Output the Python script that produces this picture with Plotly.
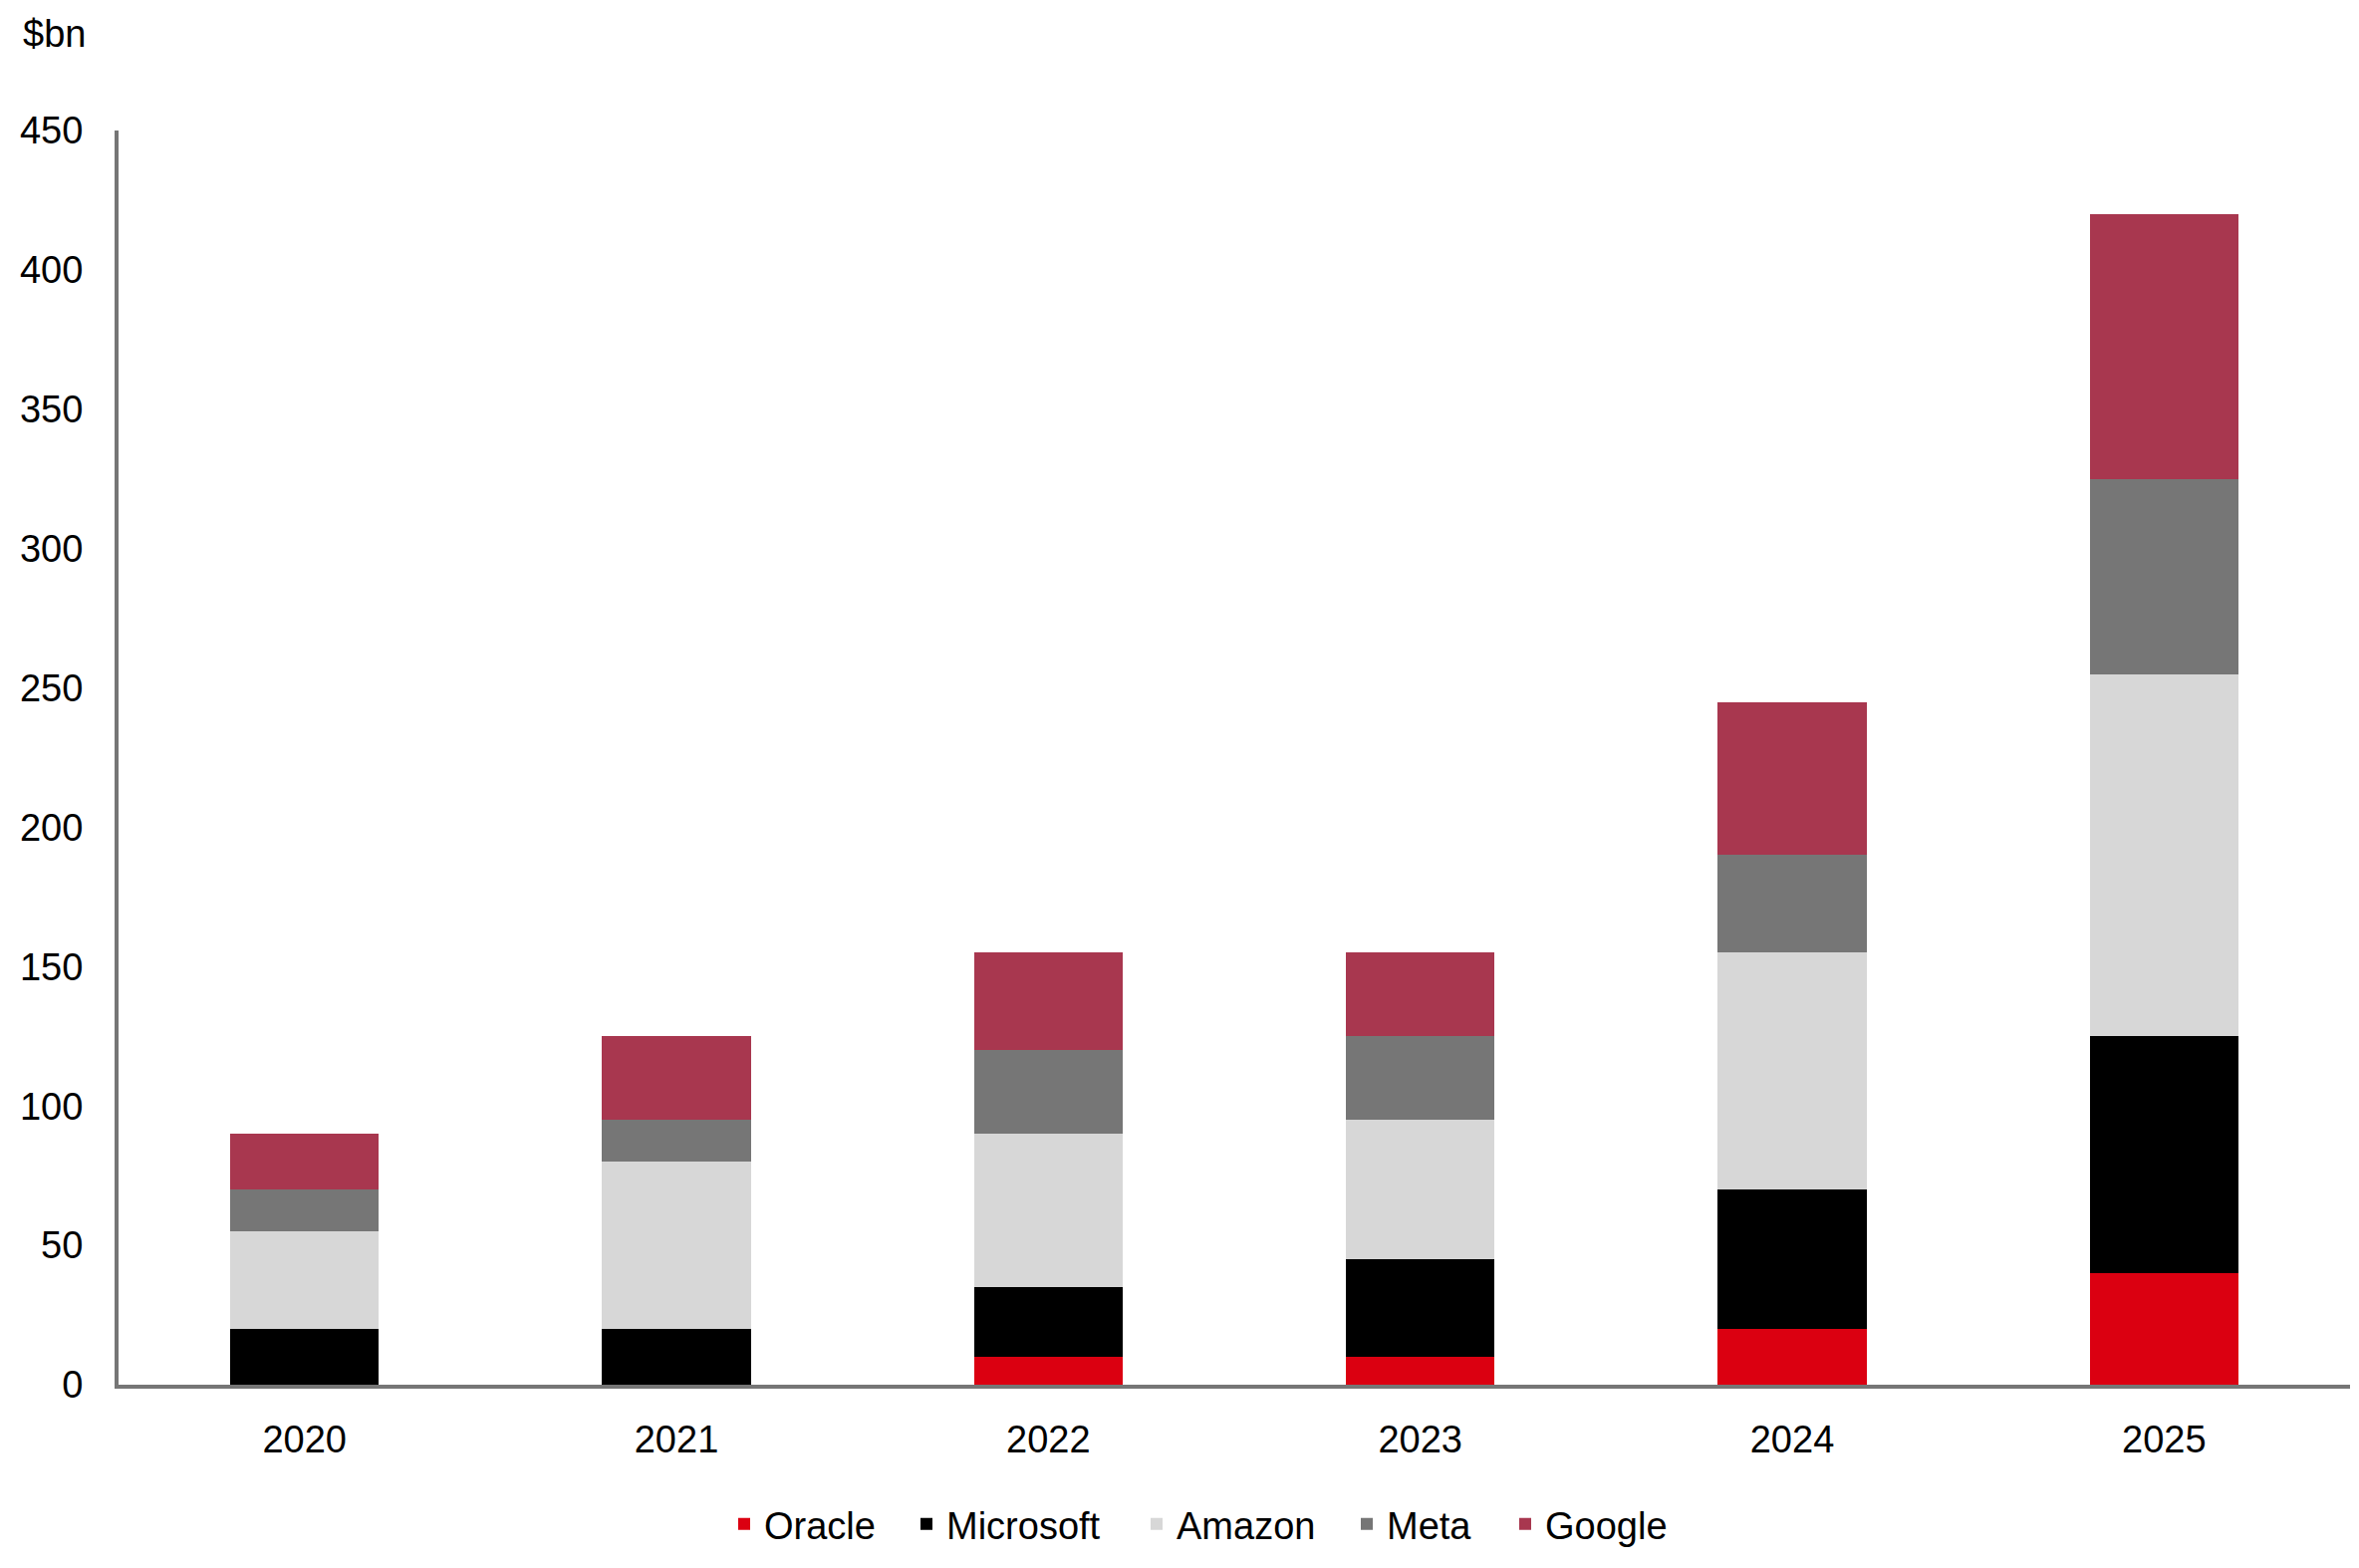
import plotly.graph_objects as go

years = ["2020", "2021", "2022", "2023", "2024", "2025"]
oracle = [0, 0, 10, 10, 20, 40]
microsoft = [20, 20, 25, 35, 50, 85]
amazon = [35, 60, 55, 50, 85, 130]
meta = [15, 15, 30, 30, 35, 70]
google = [20, 30, 35, 30, 55, 95]

series = [
    ("Oracle", oracle, "#DB0011"),
    ("Microsoft", microsoft, "#000000"),
    ("Amazon", amazon, "#D7D7D7"),
    ("Meta", meta, "#767676"),
    ("Google", google, "#A8374F"),
]
legend_text_px = [767, 950, 1181, 1392, 1551]

BODY = 8  # default page margin around the plot div
W, H = 2368 - BODY, 1574 - BODY
ml, mr, mt, mb = 118.5 - BODY, 9, 131 - BODY, 184
FONT = "Liberation Sans, Arial, sans-serif"
FS = 38

fig = go.Figure()
for i, (name, vals, col) in enumerate(series):
    lg = "legend" if i == 0 else f"legend{i+1}"
    fig.add_trace(go.Bar(x=years, y=vals, name=name, legend=lg, showlegend=True,
                         marker=dict(color=col, line=dict(width=0))))

legends = {}
for i, px in enumerate(legend_text_px):
    key = "legend" if i == 0 else f"legend{i+1}"
    legends[key] = dict(orientation="h", xref="container", yref="container",
                        x=(px - 40 - BODY) / W, xanchor="left",
                        y=(H - (1530 - BODY)) / H, yanchor="middle",
                        font=dict(size=FS), bgcolor="rgba(0,0,0,0)", visible=True)

fig.update_layout(
    width=W, height=H, showlegend=True,
    barmode="stack", bargap=0.6,
    plot_bgcolor="white", paper_bgcolor="white",
    margin=dict(l=ml, r=mr, t=mt, b=mb),
    font=dict(family=FONT, size=FS, color="#000000"),
    xaxis=dict(showline=True, linecolor="#767676", linewidth=4, showgrid=False, ticks="",
               ticklabelstandoff=18, tickfont=dict(size=FS), automargin=False),
    yaxis=dict(range=[0, 450], dtick=50, showline=True, linecolor="#767676", linewidth=4,
               showgrid=False, zeroline=False, ticks="", ticklabelstandoff=24,
               tickfont=dict(size=FS), automargin=False),
    **legends,
)
fig.add_annotation(text="$bn", xref="paper", yref="paper",
                   x=(12 - ml) / (W - ml - mr),
                   y=1 + (mt - (34 - BODY)) / (H - mt - mb), xanchor="left", yanchor="middle",
                   showarrow=False, font=dict(size=FS))

fig.write_html("out.html")
